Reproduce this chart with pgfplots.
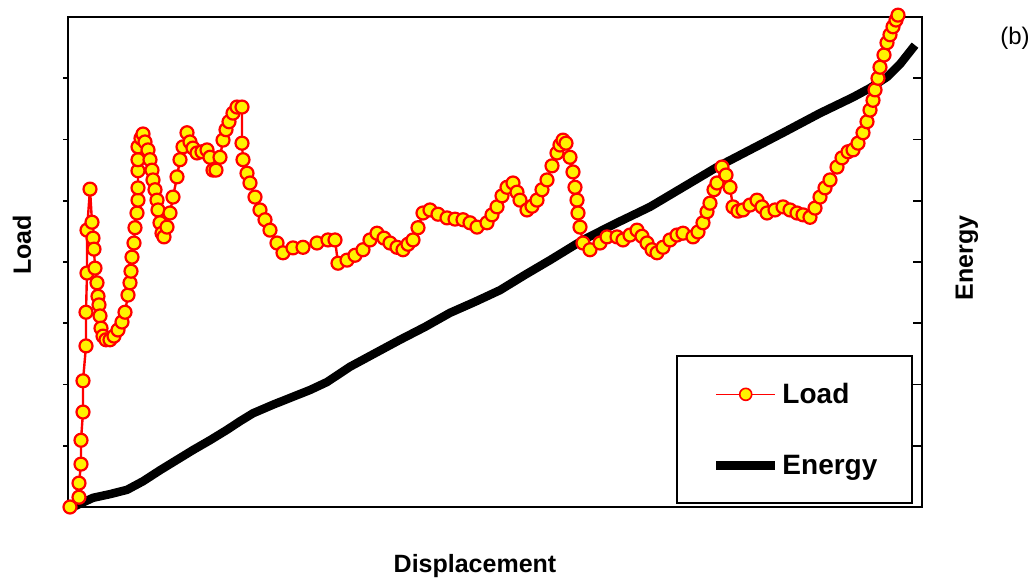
\documentclass[border=0pt]{standalone}
\usepackage{pgfplots}
\pgfplotsset{compat=1.18}
\usepackage{fontspec}
\setmainfont{Liberation Sans}
\begin{document}
\begin{tikzpicture}
\useasboundingbox (-68pt,-76pt) rectangle (965pt,507pt);
% Energy axis (right)
\begin{axis}[at={(0pt,0pt)},anchor=south west,
 scale only axis, width=854pt, height=490pt,
 xmin=0, xmax=85.4, ymin=0, ymax=8,
 hide x axis, axis y line*=right,
 xtick=\empty, ytick={1,2,3,4,5,6,7}, yticklabels={},
 tick align=inside, major tick length=9pt,
 every tick/.style={line width=1.8pt, black},
 axis line style={line width=2.4pt},
 clip=false,
 legend style={at={(0.7119,0.0061)}, anchor=south west, draw=black, line width=2pt, fill=white,
  inner xsep=35pt, inner ysep=27pt, row sep=50pt, column sep=3pt,
  font=\fontsize{28}{32}\selectfont\bfseries,
  nodes={inner sep=0pt}},
 legend cell align=left,
 legend image code/.code={\draw[mark repeat=2,mark phase=2,#1] plot coordinates {(0pt,0pt) (29.5pt,0pt) (59pt,0pt)};},
]
\addlegendimage{red, line width=1.5pt, mark=*, mark size=6pt, mark options={fill=yellow, draw=red, line width=1.6pt}}
\addlegendentry{Load}
\addplot[black, line width=8.5pt, line join=round, no marks] coordinates {
(0.5,0) (2.5,0.15) (4.2,0.21) (5.9,0.28) (7.5,0.42) (9.2,0.60) (10.9,0.77) (12.5,0.93)
(14.2,1.09) (15.9,1.26) (17.2,1.40) (18.5,1.53) (20.5,1.67) (22.5,1.80) (24.2,1.91) (25.9,2.04)
(28.2,2.29) (30.7,2.51) (33.2,2.73) (35.7,2.94) (38.2,3.17) (40.7,3.35) (43.2,3.54) (45.7,3.79)
(48.2,4.03) (49.9,4.20) (51.5,4.36) (54.9,4.64) (58.2,4.90) (61.5,5.22) (64.9,5.55) (68.2,5.83)
(71.5,6.11) (75.2,6.43) (78.5,6.69) (80.2,6.84) (81.9,7.02) (83.2,7.23) (84.7,7.54)
};
\addlegendentry{Energy}
\end{axis}
% Load axis (left, box)
\begin{axis}[at={(0pt,0pt)},anchor=south west,
 scale only axis, width=854pt, height=490pt,
 xmin=0, xmax=85.4, ymin=0, ymax=8,
 xtick=\empty, ytick={1,2,3,4,5,6,7}, yticklabels={}, ytick pos=left,
 tick align=outside, major tick length=5pt,
 every tick/.style={line width=1.8pt, black},
 axis line style={line width=2.4pt},
 clip=false,
]
\addplot[red, line width=2.4pt, line join=round, mark=*, mark size=6.5pt, mark options={fill=yellow, draw=red, line width=2.2pt}] coordinates {
(0.2,0) (1.1,0.16) (1.1,0.39) (1.3,0.70) (1.3,1.09) (1.5,1.55) (1.5,2.06) (1.8,2.63) (1.8,3.18)
(1.9,3.82) (1.9,4.52) (2.2,5.19) (2.4,4.65) (2.5,4.39) (2.6,4.21) (2.7,3.90) (2.9,3.66) (3.0,3.44)
(3.1,3.30) (3.2,3.12) (3.3,2.92) (3.5,2.79) (3.8,2.73) (4.2,2.73) (4.6,2.79) (5.0,2.89) (5.4,3.02)
(5.7,3.18) (6.0,3.46) (6.2,3.66) (6.3,3.85) (6.4,4.08) (6.6,4.31) (6.7,4.56) (6.9,4.80) (7.0,5.01)
(7.0,5.21) (7.0,5.49) (7.0,5.67) (7.0,5.88) (7.3,6.02) (7.5,6.09) (7.7,5.96) (8.0,5.83) (8.2,5.67)
(8.4,5.50) (8.5,5.34) (8.7,5.18) (8.9,5.01) (9.0,4.85) (9.2,4.64) (9.4,4.47) (9.6,4.41) (9.9,4.57)
(10.2,4.80) (10.5,5.06) (10.9,5.39) (11.2,5.67) (11.5,5.88) (11.9,6.11) (12.2,5.96) (12.5,5.86)
(12.9,5.78) (13.4,5.80) (13.9,5.83) (14.2,5.71) (14.5,5.50) (14.8,5.50) (15.2,5.71) (15.5,5.99)
(15.8,6.16) (16.1,6.29) (16.5,6.43) (16.9,6.53) (17.4,6.53) (17.4,5.94) (17.5,5.67) (17.9,5.45)
(18.2,5.29) (18.7,5.06) (19.2,4.85) (19.7,4.69) (20.2,4.52) (20.9,4.31) (21.5,4.15) (22.5,4.23)
(23.5,4.24) (24.9,4.31) (26.0,4.36) (26.7,4.36) (27.0,3.98) (27.9,4.03) (28.7,4.11) (29.5,4.20)
(30.2,4.36) (30.9,4.47) (31.6,4.39) (32.2,4.31) (32.9,4.24) (33.5,4.20) (34.0,4.29) (34.5,4.36)
(35.0,4.56) (35.5,4.80) (36.2,4.85) (37.0,4.78) (37.9,4.72) (38.7,4.70) (39.5,4.69) (40.2,4.64)
(40.9,4.57) (41.9,4.64) (42.4,4.77) (42.9,4.90) (43.4,5.08) (43.9,5.22) (44.5,5.29) (44.9,5.14)
(45.2,5.01) (45.9,4.85) (46.4,4.91) (46.9,5.01) (47.4,5.18) (47.9,5.34) (48.4,5.57) (48.9,5.78)
(49.2,5.91) (49.5,5.99) (49.8,5.94) (50.2,5.71) (50.5,5.47) (50.7,5.22) (50.9,5.01) (51.0,4.80)
(51.2,4.57) (51.5,4.31) (52.2,4.20) (53.2,4.31) (53.9,4.41) (54.9,4.41) (55.5,4.36) (56.2,4.44)
(56.9,4.52) (57.4,4.42) (57.9,4.31) (58.4,4.20) (58.9,4.15) (59.5,4.24) (60.2,4.36) (60.9,4.44)
(61.5,4.47) (62.5,4.41) (63.0,4.49) (63.5,4.64) (63.9,4.82) (64.2,4.96) (64.6,5.18) (64.9,5.29)
(65.4,5.55) (65.8,5.42) (66.2,5.22) (66.5,4.90) (67.0,4.83) (67.5,4.85) (68.2,4.93) (68.9,5.01)
(69.4,4.90) (69.9,4.80) (70.7,4.85) (71.5,4.90) (72.2,4.85) (72.9,4.80) (73.5,4.77) (74.2,4.73)
(74.7,4.88) (75.2,5.06) (75.7,5.21) (76.2,5.34) (76.9,5.55) (77.4,5.70) (78.0,5.80) (78.5,5.83)
(79.0,5.94) (79.5,6.11) (79.9,6.29) (80.2,6.48) (80.5,6.64) (80.7,6.81) (81.0,7.00) (81.2,7.18)
(81.6,7.38) (81.9,7.58) (82.2,7.71) (82.5,7.84) (82.8,7.95) (83.0,8.03)
};
\end{axis}
\node[rotate=90, font=\fontsize{25}{30}\selectfont\bfseries] at (-46pt,262pt) {Load};
\node[rotate=90, font=\fontsize{25}{30}\selectfont\bfseries] at (899pt,249pt) {Energy};
\node[font=\fontsize{25}{30}\selectfont\bfseries] at (407pt,-59pt) {Displacement};
\node[font=\fontsize{24}{28}\selectfont] at (947pt,469pt) {(b)};
\end{tikzpicture}
\end{document}
